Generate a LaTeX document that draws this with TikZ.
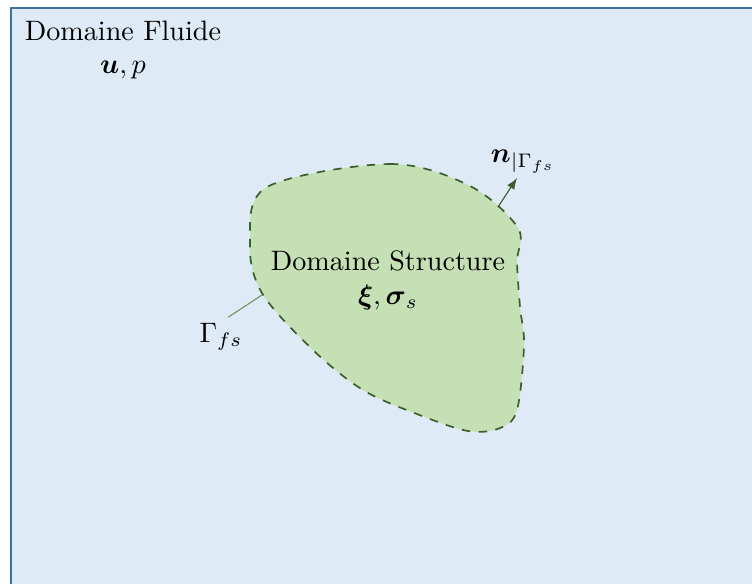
\documentclass[tikz,border=0pt]{standalone}
\usepackage{amsmath}
\definecolor{fluidfill}{HTML}{DEEBF7}
\definecolor{fluidline}{HTML}{41719C}
\definecolor{solidfill}{HTML}{C5E0B4}
\definecolor{solidline}{HTML}{3B5E2B}
\definecolor{gammaline}{HTML}{6F9A5C}
\begin{document}
\begin{tikzpicture}[x=0.0125cm, y=-0.0125cm,
		fluid/.style = {fill=fluidfill, draw=fluidline, line width=0.6pt},
		solid/.style = {fill=solidfill, draw=solidline, dashed, line width=0.6pt},
		label/.style = {align=center, inner sep=2pt}]
		\useasboundingbox (0,0) rectangle (752,583);
		\draw[fluid] (11,8) rectangle (770,600);
		\draw[solid] plot[smooth cycle, tension=0.55] coordinates {(267,187) (390,164) (470,186) (518,228) (517,262) (520,307) (524,345) (517,410) (500,428) (468,431) (417,414) (363,390) (313,350) (262,293) (250,243)};
		\node[label] (fluide) at (123,50) {Domaine Fluide\\ $\boldsymbol{u}, p$};
		\node[label] (structure) at (388,280) {Domaine Structure\\ $\boldsymbol{\xi}, \boldsymbol{\sigma}_s$};
		\node[label] (gamma) at (221,337) {$\Gamma_{fs}$};
		\node[label] (normal) at (523,162) {$\boldsymbol{n}_{|\Gamma_{fs}}$};
		\coordinate (gbase) at (262,295);
		\coordinate (nbase) at (498,207);
		\coordinate (ntip) at (517,178);
		\draw[gammaline, thin] (gamma.70) -- (gbase);
		\draw[solidline, thin, -latex] (nbase) -- (ntip);
	\end{tikzpicture}
\end{document}
